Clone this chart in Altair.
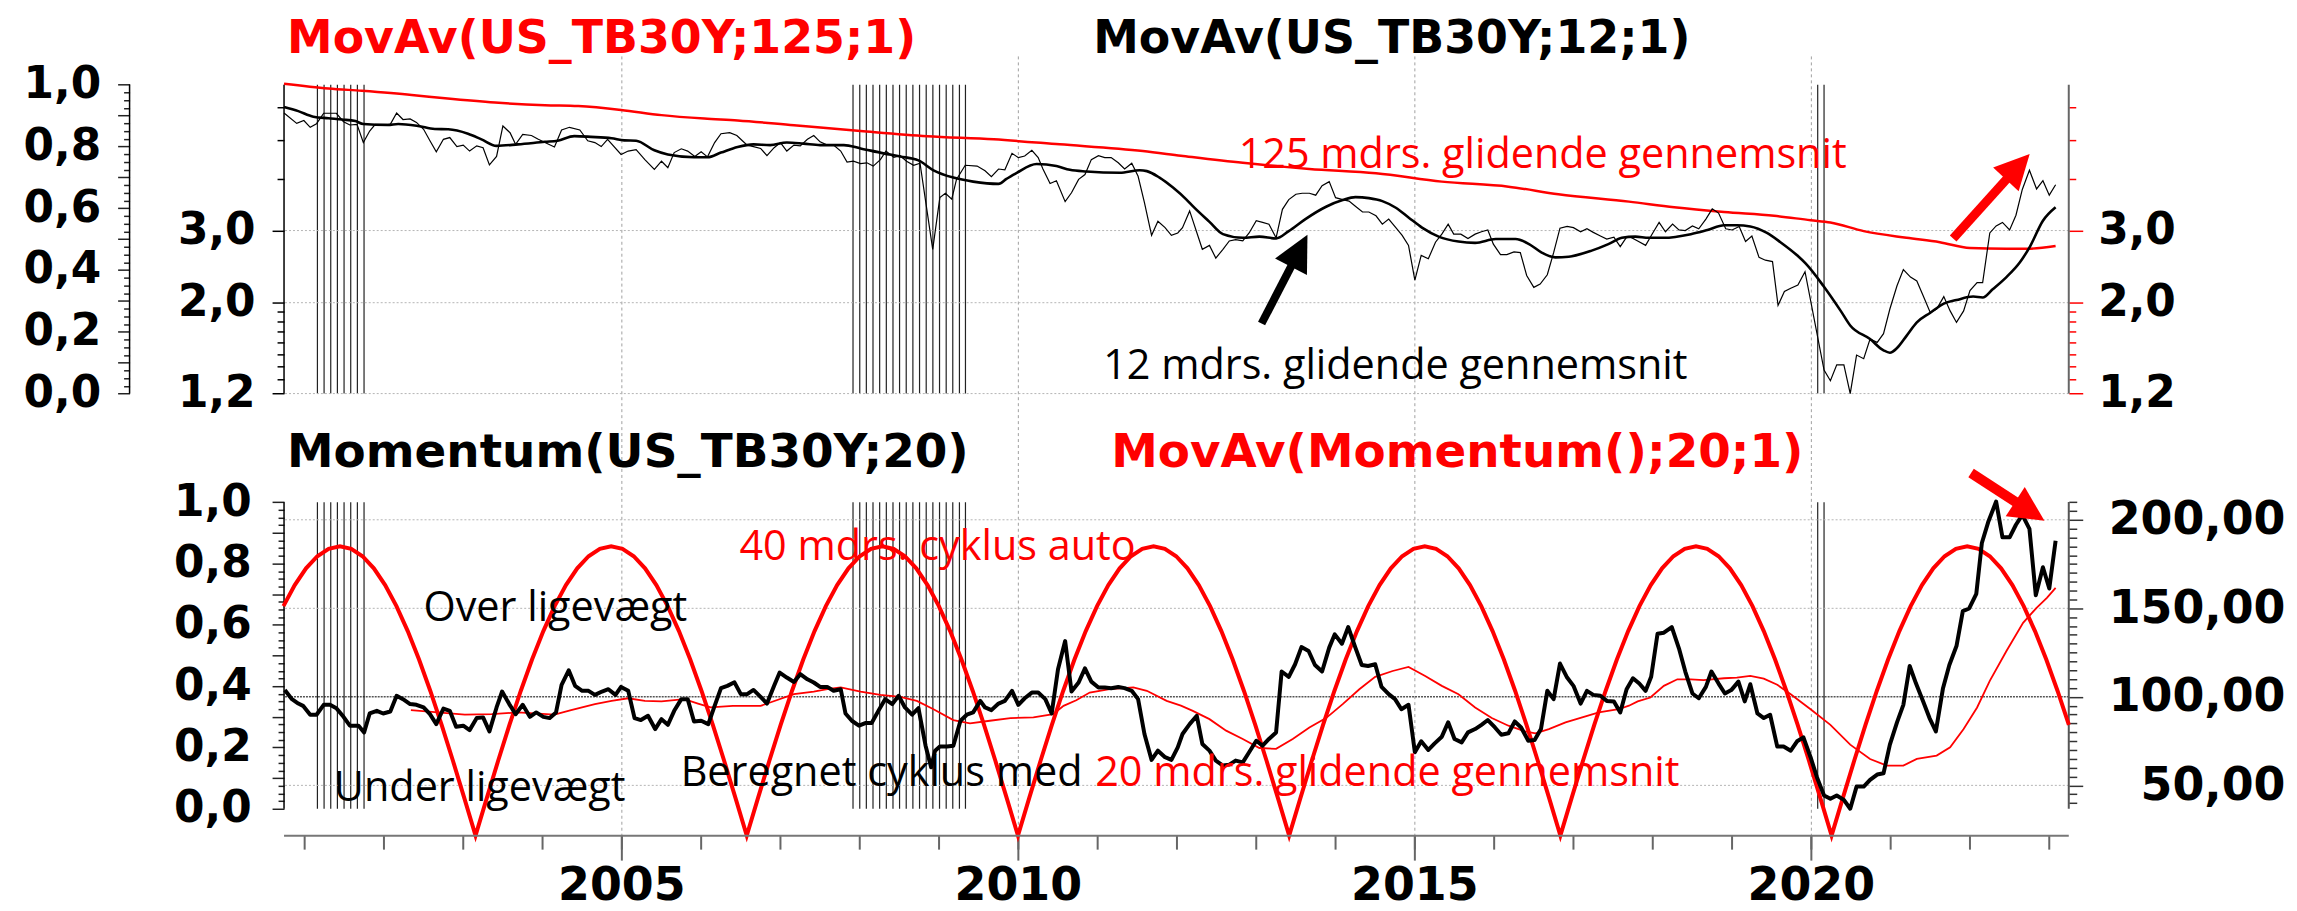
import altair as alt
import pandas as pd

# ---------------- axis domains (decimal years) ----------------
X0, X1 = 2000.740, 2023.246
W, H = 1791, 782

# ---------------- top panel: US_TB30Y (thin black) ----------------
tb_year = [2000.74, 2000.90, 2000.99, 2001.07, 2001.15, 2001.24, 2001.40, 2001.49, 2001.57, 2001.66,
           2001.74, 2001.82, 2001.89, 2002.08, 2002.16, 2002.24, 2002.33, 2002.41, 2002.50, 2002.58,
           2002.66, 2002.75, 2002.83, 2002.92, 2003.00, 2003.08, 2003.17, 2003.25, 2003.33, 2003.42,
           2003.50, 2003.59, 2003.66, 2003.75, 2003.86, 2003.94, 2004.03, 2004.15, 2004.24, 2004.34,
           2004.47, 2004.57, 2004.66, 2004.74, 2004.82, 2004.99, 2005.08, 2005.18, 2005.29, 2005.41,
           2005.50, 2005.58, 2005.66, 2005.75, 2005.83, 2005.92, 2006.00, 2006.08, 2006.17, 2006.25,
           2006.36, 2006.45, 2006.52, 2006.58, 2006.66, 2006.75, 2006.83, 2006.92, 2007.00, 2007.08,
           2007.17, 2007.25, 2007.34, 2007.42, 2007.50, 2007.59, 2007.67, 2007.76, 2007.84, 2007.92,
           2008.01, 2008.09, 2008.17, 2008.26, 2008.33, 2008.43, 2008.51, 2008.59, 2008.68, 2008.76,
           2008.92, 2009.01, 2009.08, 2009.16, 2009.22, 2009.33, 2009.48, 2009.58, 2009.66, 2009.75,
           2009.83, 2009.92, 2010.00, 2010.08, 2010.17, 2010.25, 2010.31, 2010.40, 2010.48, 2010.59,
           2010.67, 2010.76, 2010.84, 2010.92, 2011.01, 2011.09, 2011.17, 2011.26, 2011.34, 2011.43,
           2011.51, 2011.59, 2011.68, 2011.76, 2011.85, 2011.93, 2012.01, 2012.07, 2012.16, 2012.32,
           2012.41, 2012.49, 2012.58, 2012.66, 2012.74, 2012.83, 2012.91, 2013.00, 2013.08, 2013.16,
           2013.25, 2013.33, 2013.41, 2013.50, 2013.58, 2013.67, 2013.75, 2013.83, 2013.92, 2014.00,
           2014.09, 2014.17, 2014.25, 2014.34, 2014.42, 2014.51, 2014.59, 2014.67, 2014.76, 2014.84,
           2014.92, 2015.00, 2015.08, 2015.17, 2015.26, 2015.34, 2015.42, 2015.49, 2015.58, 2015.67,
           2015.76, 2015.84, 2015.92, 2015.99, 2016.08, 2016.16, 2016.25, 2016.33, 2016.41, 2016.50,
           2016.58, 2016.67, 2016.75, 2016.83, 2016.92, 2017.00, 2017.09, 2017.17, 2017.25, 2017.34,
           2017.42, 2017.51, 2017.59, 2017.67, 2017.72, 2017.81, 2017.91, 2018.00, 2018.08, 2018.16,
           2018.25, 2018.33, 2018.41, 2018.50, 2018.58, 2018.67, 2018.75, 2018.83, 2018.92, 2019.00,
           2019.09, 2019.17, 2019.25, 2019.34, 2019.42, 2019.51, 2019.58, 2019.66, 2019.74, 2019.83,
           2019.92, 2020.16, 2020.24, 2020.32, 2020.41, 2020.49, 2020.57, 2020.66, 2020.74, 2020.83,
           2020.91, 2020.99, 2021.08, 2021.16, 2021.25, 2021.33, 2021.41, 2021.50, 2021.58, 2021.67,
           2021.75, 2021.83, 2021.92, 2022.00, 2022.09, 2022.16, 2022.25, 2022.33, 2022.41, 2022.50,
           2022.58, 2022.66, 2022.75, 2022.84, 2022.92, 2023.00, 2023.08]
tb_val = [5.81, 5.48, 5.57, 5.36, 5.47, 5.80, 5.80, 5.53, 5.43, 5.45,
          4.92, 5.25, 5.45, 5.45, 5.81, 5.60, 5.62, 5.51, 5.30, 4.97,
          4.67, 5.01, 5.06, 4.81, 4.85, 4.69, 4.83, 4.78, 4.34, 4.55,
          5.40, 5.20, 4.87, 5.15, 5.12, 5.02, 4.92, 4.80, 5.28, 5.36,
          5.28, 4.97, 4.92, 4.81, 5.01, 4.60, 4.69, 4.73, 4.47, 4.23,
          4.43, 4.27, 4.65, 4.75, 4.69, 4.55, 4.67, 4.54, 4.92, 5.17,
          5.20, 5.12, 4.97, 4.85, 4.81, 4.76, 4.57, 4.78, 4.92, 4.69,
          4.85, 4.83, 5.01, 5.12, 4.94, 4.85, 4.85, 4.69, 4.41, 4.43,
          4.37, 4.39, 4.31, 4.47, 4.69, 4.53, 4.57, 4.43, 4.33, 4.38,
          2.70, 3.61, 3.70, 3.58, 4.00, 4.33, 4.31, 4.20, 4.06, 4.24,
          4.22, 4.63, 4.52, 4.56, 4.71, 4.52, 4.24, 3.91, 3.97, 3.53,
          3.71, 4.00, 4.11, 4.47, 4.57, 4.52, 4.52, 4.39, 4.24, 4.38,
          4.07, 3.51, 2.92, 3.16, 3.05, 2.92, 2.96, 3.05, 3.35, 2.70,
          2.76, 2.57, 2.70, 2.83, 2.85, 2.83, 2.96, 3.17, 3.14, 3.11,
          2.88, 3.38, 3.57, 3.68, 3.70, 3.70, 3.66, 3.86, 3.95, 3.61,
          3.57, 3.54, 3.44, 3.33, 3.33, 3.26, 3.11, 3.20, 3.05, 2.92,
          2.76, 2.27, 2.61, 2.56, 2.81, 2.94, 3.11, 2.94, 2.94, 2.87,
          2.94, 2.98, 3.01, 2.78, 2.62, 2.62, 2.66, 2.65, 2.33, 2.18,
          2.22, 2.34, 2.65, 3.04, 3.07, 3.05, 2.98, 3.03, 2.97, 2.91,
          2.86, 2.89, 2.74, 2.89, 2.89, 2.83, 2.76, 2.96, 3.14, 2.98,
          3.11, 3.01, 3.00, 3.08, 3.03, 3.20, 3.39, 3.31, 3.03, 3.01,
          3.07, 2.82, 2.91, 2.58, 2.54, 2.52, 1.97, 2.13, 2.17, 2.21,
          2.38, 1.37, 1.29, 1.41, 1.41, 1.20, 1.49, 1.46, 1.63, 1.60,
          1.68, 1.93, 2.20, 2.41, 2.31, 2.26, 2.08, 1.89, 1.93, 2.07,
          1.91, 1.79, 1.91, 2.14, 2.24, 2.24, 2.96, 3.08, 3.14, 3.01,
          3.27, 3.78, 4.21, 3.79, 3.97, 3.66, 3.88]

# ---------------- top panel: MovAv 12 (thick black) ----------------
ma12_year = [2000.74, 2000.92, 2001.11, 2001.30, 2001.47, 2001.64, 2001.74, 2002.05, 2002.18, 2002.43,
             2002.64, 2002.81, 2003.06, 2003.23, 2003.42, 2003.69, 2004.03, 2004.19, 2004.40, 2004.61,
             2004.87, 2005.03, 2005.18, 2005.41, 2005.58, 2005.91, 2006.08, 2006.25, 2006.46, 2006.66,
             2006.87, 2007.08, 2007.29, 2007.50, 2007.80, 2008.01, 2008.30, 2008.51, 2008.74, 2008.93,
             2009.18, 2009.43, 2009.75, 2009.85, 2009.98, 2010.23, 2010.48, 2010.65, 2010.86, 2011.28,
             2011.53, 2011.62, 2011.78, 2011.95, 2012.12, 2012.20, 2012.41, 2012.58, 2012.83, 2013.04,
             2013.25, 2013.41, 2013.62, 2013.88, 2014.09, 2014.25, 2014.42, 2014.59, 2014.76, 2014.92,
             2015.09, 2015.30, 2015.55, 2015.76, 2016.02, 2016.27, 2016.44, 2016.60, 2016.77, 2016.94,
             2017.23, 2017.44, 2017.61, 2017.78, 2017.95, 2018.14, 2018.48, 2018.69, 2018.90, 2019.06,
             2019.23, 2019.44, 2019.61, 2019.82, 2019.93, 2020.15, 2020.37, 2020.49, 2020.74, 2020.91,
             2020.99, 2021.08, 2021.20, 2021.33, 2021.50, 2021.67, 2021.83, 2022.04, 2022.16, 2022.29,
             2022.46, 2022.63, 2022.76, 2022.92, 2023.08]
ma12_val = [6.01, 5.87, 5.69, 5.64, 5.60, 5.55, 5.46, 5.43, 5.46, 5.40,
            5.31, 5.30, 5.17, 5.01, 4.83, 4.87, 4.94, 4.97, 5.10, 5.08,
            5.04, 4.98, 4.97, 4.71, 4.60, 4.53, 4.53, 4.65, 4.80, 4.87,
            4.85, 4.92, 4.89, 4.85, 4.85, 4.76, 4.63, 4.55, 4.45, 4.21,
            4.04, 3.95, 3.90, 4.01, 4.15, 4.36, 4.31, 4.22, 4.18, 4.15,
            4.21, 4.19, 4.04, 3.82, 3.57, 3.44, 3.15, 2.94, 2.88, 2.90,
            2.87, 2.99, 3.20, 3.43, 3.56, 3.62, 3.60, 3.54, 3.41, 3.23,
            3.05, 2.90, 2.82, 2.80, 2.86, 2.86, 2.78, 2.65, 2.58, 2.59,
            2.68, 2.78, 2.88, 2.90, 2.88, 2.88, 2.94, 3.01, 3.09, 3.09,
            3.07, 2.96, 2.81, 2.61, 2.49, 2.20, 1.91, 1.76, 1.63, 1.53,
            1.51, 1.55, 1.66, 1.79, 1.89, 1.99, 2.03, 2.07, 2.06, 2.16,
            2.31, 2.51, 2.75, 3.17, 3.42]

# ---------------- top panel: MovAv 125 (red) ----------------
ma125_year = [2000.74, 2001.30, 2001.72, 2002.35, 2002.77, 2003.40, 2004.03, 2004.45, 2004.99, 2005.50,
              2006.04, 2006.46, 2007.17, 2008.01, 2008.85, 2009.69, 2010.52, 2011.57, 2012.05, 2012.83,
              2013.67, 2014.51, 2015.34, 2016.18, 2016.81, 2017.70, 2018.27, 2018.90, 2019.53, 2019.99,
              2020.24, 2020.66, 2021.20, 2021.62, 2022.00, 2022.46, 2022.76, 2023.08]
ma125_val = [6.85, 6.67, 6.58, 6.43, 6.31, 6.16, 6.07, 6.04, 5.91, 5.74,
             5.63, 5.57, 5.42, 5.25, 5.10, 5.01, 4.87, 4.69, 4.57, 4.39,
             4.24, 4.14, 3.95, 3.84, 3.68, 3.53, 3.42, 3.33, 3.26, 3.18,
             3.14, 2.99, 2.88, 2.81, 2.72, 2.71, 2.71, 2.75]

# ---------------- bottom panel: Momentum(20) (thick black) ----------------
mom_year = [2000.75, 2000.84, 2000.92, 2000.98, 2001.07, 2001.15, 2001.24, 2001.32, 2001.40, 2001.49,
            2001.57, 2001.68, 2001.75, 2001.82, 2001.91, 2001.99, 2002.08, 2002.16, 2002.24, 2002.33,
            2002.41, 2002.50, 2002.58, 2002.66, 2002.75, 2002.83, 2002.91, 2003.00, 2003.08, 2003.17,
            2003.25, 2003.33, 2003.42, 2003.49, 2003.58, 2003.66, 2003.75, 2003.84, 2003.92, 2004.01,
            2004.09, 2004.17, 2004.24, 2004.33, 2004.41, 2004.50, 2004.58, 2004.66, 2004.75, 2004.83,
            2004.92, 2004.99, 2005.08, 2005.16, 2005.24, 2005.33, 2005.42, 2005.50, 2005.58, 2005.66,
            2005.75, 2005.83, 2005.91, 2006.00, 2006.09, 2006.17, 2006.25, 2006.33, 2006.42, 2006.50,
            2006.58, 2006.66, 2006.75, 2006.83, 2006.92, 2006.99, 2007.08, 2007.17, 2007.25, 2007.34,
            2007.42, 2007.50, 2007.59, 2007.67, 2007.76, 2007.82, 2007.90, 2007.99, 2008.07, 2008.15,
            2008.24, 2008.32, 2008.41, 2008.49, 2008.57, 2008.66, 2008.74, 2008.83, 2008.90, 2008.95,
            2009.01, 2009.10, 2009.18, 2009.27, 2009.35, 2009.43, 2009.52, 2009.58, 2009.66, 2009.75,
            2009.83, 2009.92, 2010.00, 2010.08, 2010.17, 2010.25, 2010.34, 2010.42, 2010.50, 2010.59,
            2010.67, 2010.76, 2010.84, 2010.92, 2011.01, 2011.09, 2011.17, 2011.26, 2011.34, 2011.43,
            2011.51, 2011.59, 2011.68, 2011.76, 2011.85, 2011.93, 2012.01, 2012.07, 2012.16, 2012.25,
            2012.32, 2012.41, 2012.49, 2012.58, 2012.66, 2012.74, 2012.83, 2012.91, 2013.00, 2013.08,
            2013.16, 2013.25, 2013.32, 2013.41, 2013.49, 2013.57, 2013.66, 2013.74, 2013.83, 2013.92,
            2013.99, 2014.08, 2014.16, 2014.25, 2014.33, 2014.41, 2014.50, 2014.58, 2014.67, 2014.75,
            2014.83, 2014.92, 2015.00, 2015.08, 2015.17, 2015.25, 2015.34, 2015.42, 2015.50, 2015.59,
            2015.67, 2015.76, 2015.84, 2015.92, 2016.01, 2016.09, 2016.18, 2016.26, 2016.34, 2016.43,
            2016.51, 2016.59, 2016.67, 2016.75, 2016.83, 2016.92, 2017.00, 2017.09, 2017.17, 2017.25,
            2017.34, 2017.42, 2017.51, 2017.59, 2017.67, 2017.75, 2017.83, 2017.91, 2017.98, 2018.06,
            2018.14, 2018.24, 2018.33, 2018.41, 2018.50, 2018.58, 2018.67, 2018.74, 2018.83, 2018.91,
            2018.99, 2019.08, 2019.16, 2019.23, 2019.32, 2019.40, 2019.48, 2019.57, 2019.65, 2019.74,
            2019.82, 2019.90, 2019.99, 2020.07, 2020.16, 2020.24, 2020.32, 2020.41, 2020.49, 2020.57,
            2020.66, 2020.74, 2020.83, 2020.91, 2020.99, 2021.08, 2021.16, 2021.24, 2021.32, 2021.41,
            2021.49, 2021.57, 2021.66, 2021.74, 2021.83, 2021.91, 2021.99, 2022.08, 2022.15, 2022.23,
            2022.33, 2022.41, 2022.50, 2022.58, 2022.66, 2022.75, 2022.83, 2022.92, 2023.00, 2023.08]
mom_val = [103.8, 98.7, 96.2, 94.9, 89.9, 89.9, 95.5, 95.5, 93.6, 88.7,
           83.7, 83.7, 79.9, 90.6, 92.1, 90.6, 91.7, 100.6, 98.7, 95.9,
           95.5, 94.0, 90.2, 84.6, 93.4, 92.1, 83.1, 83.7, 81.2, 88.0,
           88.4, 80.5, 94.0, 103.0, 95.9, 90.2, 95.5, 88.7, 91.2, 88.7,
           88.0, 91.2, 106.8, 115.0, 106.2, 103.4, 103.4, 101.1, 103.0, 104.3,
           101.1, 105.6, 103.4, 88.0, 86.9, 89.3, 81.8, 87.4, 84.2, 92.1,
           98.7, 98.7, 86.1, 86.5, 84.6, 94.9, 104.9, 106.2, 108.2, 101.5,
           101.5, 103.9, 100.0, 96.2, 106.2, 113.7, 110.9, 108.4, 112.8, 109.9,
           108.1, 105.6, 105.6, 103.4, 104.3, 90.6, 86.5, 83.7, 85.2, 85.2,
           92.5, 98.7, 95.9, 100.6, 94.0, 89.9, 93.6, 72.4, 60.2, 69.6,
           71.9, 71.9, 72.4, 86.5, 89.9, 91.2, 97.7, 94.0, 92.5, 96.2,
           97.7, 103.4, 95.5, 99.2, 102.4, 102.4, 98.7, 90.6, 115.6, 131.5,
           103.0, 108.1, 116.1, 108.6, 105.3, 105.3, 104.9, 105.6, 104.9, 103.4,
           98.7, 79.0, 64.4, 69.6, 65.9, 64.4, 71.5, 79.0, 84.6, 89.3,
           73.4, 69.6, 64.0, 61.2, 61.7, 64.0, 63.0, 68.7, 75.2, 72.4,
           76.2, 79.9, 114.3, 111.3, 118.4, 128.1, 125.9, 118.0, 114.3, 127.8,
           135.3, 130.0, 139.4, 127.8, 118.0, 117.4, 118.4, 105.6, 101.5, 98.7,
           93.0, 95.5, 68.7, 74.9, 70.0, 73.7, 77.5, 85.6, 76.2, 74.3,
           79.9, 81.8, 84.2, 86.9, 82.7, 78.6, 79.4, 86.1, 82.7, 75.2,
           75.6, 81.8, 103.4, 98.7, 118.8, 110.9, 106.2, 96.2, 103.4, 101.1,
           100.6, 97.7, 97.4, 91.2, 104.3, 110.5, 107.5, 103.4, 111.3, 135.6,
           136.2, 139.4, 127.4, 114.3, 101.9, 99.2, 105.6, 114.3, 107.5, 101.9,
           103.8, 108.6, 97.4, 107.1, 90.6, 88.0, 89.9, 71.9, 71.9, 69.6,
           74.9, 77.1, 65.9, 54.6, 44.3, 42.4, 44.3, 41.8, 36.8, 49.3,
           49.3, 53.1, 56.1, 56.8, 73.0, 85.6, 95.5, 117.4, 107.5, 97.4,
           88.0, 80.5, 104.9, 118.0, 128.7, 148.4, 149.9, 158.2, 186.9, 198.7,
           210.3, 190.1, 190.1, 197.2, 202.8, 194.9, 157.4, 173.2, 161.2, 188.2]

# ---------------- bottom panel: MovAv(Momentum;20) (thin red) ----------------
ma20_year = [2002.34, 2002.68, 2003.02, 2003.36, 2003.69, 2004.15, 2004.36, 2004.66, 2004.87, 2005.08,
             2005.29, 2005.50, 2005.79, 2005.96, 2006.12, 2006.40, 2006.75, 2006.87, 2007.17, 2007.42,
             2007.59, 2007.76, 2008.01, 2008.26, 2008.51, 2008.72, 2008.93, 2009.18, 2009.39, 2009.64,
             2009.90, 2010.19, 2010.44, 2010.57, 2010.73, 2010.90, 2011.15, 2011.45, 2011.62, 2011.87,
             2012.05, 2012.20, 2012.41, 2012.62, 2012.83, 2013.04, 2013.25, 2013.46, 2013.67, 2013.88,
             2014.09, 2014.30, 2014.50, 2014.72, 2014.92, 2015.13, 2015.34, 2015.55, 2015.76, 2015.97,
             2016.18, 2016.39, 2016.52, 2016.69, 2016.90, 2017.11, 2017.32, 2017.57, 2017.70, 2017.81,
             2017.97, 2018.14, 2018.31, 2018.48, 2018.64, 2018.90, 2019.06, 2019.23, 2019.40, 2019.57,
             2019.74, 2019.99, 2020.24, 2020.49, 2020.74, 2020.95, 2021.16, 2021.33, 2021.58, 2021.75,
             2021.92, 2022.09, 2022.25, 2022.46, 2022.67, 2022.84, 2022.97, 2023.08]
ma20_val = [92.5, 91.2, 89.9, 90.2, 91.2, 89.9, 92.5, 95.9, 97.7, 99.2,
            97.7, 97.4, 98.7, 96.2, 94.0, 94.9, 94.9, 96.8, 101.5, 103.0,
            104.3, 105.3, 103.0, 101.1, 100.0, 97.7, 93.0, 86.9, 85.0, 86.5,
            88.0, 88.4, 90.2, 94.9, 98.1, 102.4, 104.3, 105.3, 103.4, 97.7,
            95.0, 92.1, 87.4, 80.9, 76.2, 71.1, 70.6, 76.2, 82.7, 88.0,
            95.9, 104.3, 111.3, 114.6, 116.9, 111.8, 106.2, 101.5, 94.0, 88.0,
            83.7, 80.5, 79.4, 81.8, 85.6, 88.4, 91.2, 93.0, 95.0, 97.4,
            99.6, 106.2, 109.9, 109.9, 109.4, 110.5, 110.9, 111.8, 110.3, 106.8,
            101.5, 93.0, 84.2, 73.0, 64.9, 61.2, 61.2, 64.9, 66.8, 71.5,
            81.8, 94.0, 109.0, 125.9, 141.8, 150.3, 155.9, 161.5]

# ---------------- bottom panel: 40 month cycle (thick red) ----------------
cycle_troughs = [1999.735, 2003.155, 2006.575, 2009.995, 2013.415, 2016.835, 2020.255]
cycle_period = 3.42
cycle_profile = [0.0, 0.1305, 0.2588, 0.3827, 0.5, 0.6088, 0.7071, 0.7934, 0.866, 0.9239, 0.9659, 0.9914,
                 1.0, 0.9914, 0.9659, 0.9239, 0.866, 0.7934, 0.7071, 0.6088, 0.5, 0.3827, 0.2588, 0.1305]
cycle_floor, cycle_peak = 21.6, 185.0

# ---------------- vertical hatch lines (months) ----------------
rec_months = [2001.161, 2001.245, 2001.329, 2001.413, 2001.497, 2001.581, 2001.665, 2001.749,
              2007.915, 2008.000, 2008.083, 2008.167, 2008.251, 2008.335, 2008.419, 2008.502, 2008.586,
              2008.670, 2008.754, 2008.838, 2008.922, 2009.006, 2009.090, 2009.173, 2009.257, 2009.333,
              2020.080, 2020.160]

# ---------------- x axis ticks / labels ----------------
year_ticks = list(range(2001, 2024))
year_major = [2005, 2010, 2015, 2020]
year_labels = ["2005", "2010", "2015", "2020"]

# ---------------- arrows: tail x, tail y, head x, head y, angle ----------------
arrow_black_top = [2013.067, 1.779, 2013.542, 2.678, 27.3]
arrow_red_top = [2021.788, 2.869, 2022.603, 4.297, 43.0]
arrow_red_bottom = [2022.014, 226.45, 2022.755, 204.84, 123.1]

RED = "#ff0000"
BOLD = "DejaVu Sans"
ANN = "Open Sans"
HEAD = "M0,-1L1,1L-1,1Z"

xscale = alt.Scale(domain=[X0, X1], nice=False, zero=False)
s_top = alt.Scale(type="log", domain=[0.1, 7.984], nice=False)
s_top01 = alt.Scale(domain=[-1.4313, 1.0913], nice=False, zero=False)
s_bot01 = alt.Scale(domain=[-0.08775, 2.4537], nice=False, zero=False)
s_bot = alt.Scale(domain=[21.58, 461.72], nice=False, zero=False)


def X():
    return alt.X("x:Q", scale=xscale, axis=None)


fmt1 = "replace(format(datum.value, '.1f'), '.', ',')"
top_vals = [1.2, 1.3, 1.4, 1.5, 1.6, 1.7, 1.8, 1.9, 2, 3, 4, 5, 6]
lab_top = "datum.value == 1.2 || datum.value == 2 || datum.value == 3"
common_lbl = dict(labelFont=BOLD, labelFontWeight="bold", labelColor="black", labelLimit=0,
                  labelOverlap=False, labelFlush=False, title=None, grid=False, domain=False)

top_left_axis = alt.Axis(orient="left", values=top_vals, tickColor="black", tickWidth=1.5,
                         tickSize={"condition": {"test": lab_top, "value": 12}, "value": 7},
                         labelExpr=f"({lab_top}) ? {fmt1} : ''", labelFontSize=44,
                         labelPadding=17, **common_lbl)
top_right_axis = alt.Axis(orient="right", values=top_vals, tickColor=RED, tickWidth=1.5,
                          tickSize={"condition": {"test": lab_top, "value": 14}, "value": 7},
                          labelExpr=f"({lab_top}) ? {fmt1} : ''", labelFontSize=44,
                          labelPadding=15, **common_lbl)

v01 = [round(i * 0.025, 3) for i in range(41)]
lab01 = "abs(datum.value * 5 - round(datum.value * 5)) < 0.001"
maj01 = "abs(datum.value * 10 - round(datum.value * 10)) < 0.001"
axis01_top = alt.Axis(orient="left", offset=155, values=v01, tickColor="#222222", tickWidth=1.5,
                      tickSize={"condition": {"test": maj01, "value": 12}, "value": 6},
                      labelExpr=f"({lab01}) ? {fmt1} : ''", labelFontSize=44,
                      labelPadding=17, **common_lbl)
axis01_bot = alt.Axis(orient="left", offset=0, values=v01, tickColor="#222222", tickWidth=1.5,
                      tickSize={"condition": {"test": maj01, "value": 12}, "value": 6},
                      labelExpr=f"({lab01}) ? {fmt1} : ''", labelFontSize=44,
                      labelPadding=21, **common_lbl)

bot_vals = list(range(40, 215, 5))
lab_bot = "datum.value % 50 === 0"
bot_axis = alt.Axis(orient="right", values=bot_vals, tickColor="#333333", tickWidth=1.5,
                    tickSize={"condition": {"test": lab_bot, "value": 14}, "value": 8},
                    labelExpr=f"({lab_bot}) ? replace(format(datum.value, '.2f'), '.', ',') : ''",
                    labelFontSize=46, labelAlign="right", labelPadding=203, **common_lbl)

# ---------------- data frames ----------------
df_tb = pd.DataFrame({"x": tb_year, "y": tb_val})
df_ma12 = pd.DataFrame({"x": ma12_year, "y": ma12_val})
df_ma125 = pd.DataFrame({"x": ma125_year, "y": ma125_val})
df_mom = pd.DataFrame({"x": mom_year, "y": mom_val})
df_ma20 = pd.DataFrame({"x": ma20_year, "y": ma20_val})

cyc_x, cyc_y = [], []
for t0 in cycle_troughs:
    for k, p in enumerate(cycle_profile):
        t = t0 + cycle_period * k / len(cycle_profile)
        if X0 - 0.01 <= t <= X1 + 0.01:
            cyc_x.append(t)
            cyc_y.append(cycle_floor + (cycle_peak - cycle_floor) * p)
df_cyc = pd.DataFrame({"x": cyc_x, "y": cyc_y})

df_rec_top = pd.DataFrame({"x": rec_months, "lo": 1.2, "hi": 6.81})
df_rec_bot = pd.DataFrame({"x": rec_months, "lo": 0.0, "hi": 1.0})
df_ticks = pd.DataFrame({"x": year_ticks})
df_major = pd.DataFrame({"x": year_major, "lbl": year_labels})


def arrow(a, scale, color, width, size):
    shaft = pd.DataFrame({"x": [a[0], a[2]], "y": [a[1], a[3]]})
    head = pd.DataFrame({"x": [a[2]], "y": [a[3]]})
    l1 = alt.Chart(shaft).mark_line(color=color, strokeWidth=width, strokeCap="butt").encode(
        x=X(), y=alt.Y("y:Q", scale=scale, axis=None))
    l2 = alt.Chart(head).mark_point(shape=HEAD, size=size, angle=a[4], filled=True, color=color,
                                    opacity=1, strokeWidth=0).encode(
        x=X(), y=alt.Y("y:Q", scale=scale, axis=None))
    return [l1, l2]


layers = []

# ---- x axis (grid, ticks, labels) ----
layers += [
    alt.Chart(df_major).mark_rule(color="#a0a0a0", strokeDash=[3, 3], strokeWidth=1).encode(x=X()),
    alt.Chart(df_ticks).mark_rule(color="#666666", strokeWidth=2).encode(
        x=X(), y=alt.value(H), y2=alt.value(H + 14)),
    alt.Chart(df_major).mark_rule(color="#666666", strokeWidth=2).encode(
        x=X(), y=alt.value(H), y2=alt.value(H + 25)),
    alt.Chart(df_major).mark_text(font=BOLD, fontWeight="bold", fontSize=46, color="black",
                                  align="center", baseline="alphabetic").encode(
        x=X(), y=alt.value(H + 65), text="lbl:N"),
]

# ---- top panel ----
layers += [
    alt.Chart(df_rec_top).mark_rule(color="#222222", strokeWidth=1.2).encode(
        x=X(), y=alt.Y("lo:Q", scale=s_top, axis=None), y2="hi:Q"),
    alt.Chart(pd.DataFrame({"y": [1.2, 2.0, 3.0]})).mark_rule(
        color="#b5b5b5", strokeDash=[2, 2], strokeWidth=1).encode(
        y=alt.Y("y:Q", scale=s_top, axis=None)),
    alt.Chart(pd.DataFrame({"lo": [1.2], "hi": [6.81]})).mark_rule(
        color="black", strokeWidth=1.5).encode(
        x=alt.value(0), y=alt.Y("lo:Q", scale=s_top, axis=top_left_axis), y2="hi:Q"),
    alt.Chart(pd.DataFrame({"lo": [1.2], "hi": [6.81]})).mark_rule(
        color="#666666", strokeWidth=2).encode(
        x=alt.value(W), y=alt.Y("lo:Q", scale=s_top, axis=top_right_axis), y2="hi:Q"),
    alt.Chart(pd.DataFrame({"lo": [0.0], "hi": [1.0]})).mark_rule(
        color="black", strokeWidth=1.5).encode(
        x=alt.value(-155), y=alt.Y("lo:Q", scale=s_top01, axis=axis01_top), y2="hi:Q"),
    alt.Chart(df_ma125).mark_line(color=RED, strokeWidth=2.5, interpolate="monotone").encode(
        x=X(), y=alt.Y("y:Q", scale=s_top, axis=None)),
    alt.Chart(df_tb).mark_line(color="black", strokeWidth=1.2).encode(
        x=X(), y=alt.Y("y:Q", scale=s_top, axis=None)),
    alt.Chart(df_ma12).mark_line(color="black", strokeWidth=2.6, interpolate="monotone").encode(
        x=X(), y=alt.Y("y:Q", scale=s_top, axis=None)),
]
layers += arrow(arrow_black_top, s_top, "black", 8, 1296)
layers += arrow(arrow_red_top, s_top, RED, 9, 1225)

# ---- bottom panel ----
layers += [
    alt.Chart(df_rec_bot).mark_rule(color="#222222", strokeWidth=1.2).encode(
        x=X(), y=alt.Y("lo:Q", scale=s_bot01, axis=None), y2="hi:Q"),
    alt.Chart(pd.DataFrame({"lo": [0.0], "hi": [1.0]})).mark_rule(
        color="black", strokeWidth=1.5).encode(
        x=alt.value(0), y=alt.Y("lo:Q", scale=s_bot01, axis=axis01_bot), y2="hi:Q"),
    alt.Chart(pd.DataFrame({"y": [50, 150, 200]})).mark_rule(
        color="#b5b5b5", strokeDash=[2, 2], strokeWidth=1).encode(
        y=alt.Y("y:Q", scale=s_bot, axis=None)),
    alt.Chart(pd.DataFrame({"y": [100]})).mark_rule(
        color="black", strokeDash=[2, 1], strokeWidth=1).encode(
        y=alt.Y("y:Q", scale=s_bot, axis=None)),
    alt.Chart(pd.DataFrame({"lo": [36.78], "hi": [210.0]})).mark_rule(
        color="#555555", strokeWidth=2).encode(
        x=alt.value(W), y=alt.Y("lo:Q", scale=s_bot, axis=bot_axis), y2="hi:Q"),
    alt.Chart(df_cyc).mark_line(color=RED, strokeWidth=4).encode(
        x=X(), y=alt.Y("y:Q", scale=s_bot, axis=None)),
    alt.Chart(df_ma20).mark_line(color=RED, strokeWidth=1.8).encode(
        x=X(), y=alt.Y("y:Q", scale=s_bot, axis=None)),
    alt.Chart(df_mom).mark_line(color="black", strokeWidth=4, strokeJoin="round").encode(
        x=X(), y=alt.Y("y:Q", scale=s_bot, axis=None)),
]
layers += arrow(arrow_red_bottom, s_bot, RED, 10, 1225)

# x axis base line
layers.append(
    alt.Chart(pd.DataFrame({"a": [0]})).mark_rule(color="#777777", strokeWidth=2).encode(
        x=alt.value(0), x2=alt.value(W), y=alt.value(H)))

# ---------------- texts ----------------
texts = [
    ("MovAv(US_TB30Y;125;1)", 3, -3, RED, 46, BOLD, "bold"),
    ("MovAv(US_TB30Y;12;1)", 812, -3, "black", 46, BOLD, "bold"),
    ("125 mdrs. glidende gennemsnit", 958, 112, RED, 41.5, ANN, "normal"),
    ("12 mdrs. glidende gennemsnit", 822, 324, "black", 41.5, ANN, "normal"),
    ("Momentum(US_TB30Y;20)", 3, 412, "black", 47, BOLD, "bold"),
    ("MovAv(Momentum();20;1)", 830, 412, RED, 47, BOLD, "bold"),
    ("40 mdrs. cyklus auto", 457, 505, RED, 41.5, ANN, "normal"),
    ("Over ligevægt", 140, 567, "black", 41.5, ANN, "normal"),
    ("Under ligevægt", 50, 747, "black", 41.5, ANN, "normal"),
    ("Beregnet cyklus med", 398, 732, "black", 41.5, ANN, "normal"),
    ("20 mdrs. glidende gennemsnit", 814, 732, RED, 41.5, ANN, "normal"),
]
for (t, px, py, c, s, f, w) in texts:
    layers.append(
        alt.Chart(pd.DataFrame({"t": [t]})).mark_text(
            align="left", baseline="alphabetic", font=f, fontSize=s, fontWeight=w, color=c).encode(
            x=alt.value(px), y=alt.value(py), text="t:N"))

chart = alt.layer(*layers).resolve_scale(y="independent").properties(
    width=W, height=H,
    padding={"left": 277, "top": 47, "right": 221, "bottom": 74},
    autosize=alt.AutoSizeParams(type="none"),
    background="white",
).configure_view(stroke=None)

chart.save("out.html", embed_options={"renderer": "svg", "actions": False})
